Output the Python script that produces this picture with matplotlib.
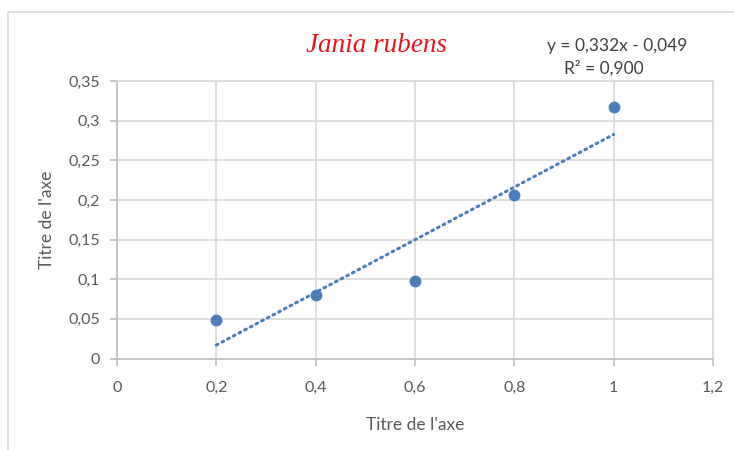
import numpy as np
import matplotlib
matplotlib.use("Agg")
import matplotlib.pyplot as plt
from matplotlib.patches import Rectangle
from matplotlib.ticker import FuncFormatter

# Data
x_vals = [0.2, 0.4, 0.6, 0.8, 1.0]
y_vals = [0.048, 0.080, 0.098, 0.206, 0.317]
x_ticks = [0, 0.2, 0.4, 0.6, 0.8, 1.0, 1.2]
y_ticks = [0, 0.05, 0.1, 0.15, 0.2, 0.25, 0.3, 0.35]
title_text = "Jania rubens"
eq_text = "y = 0,332x - 0,049"
r2_text = "R² = 0,900"
axis_title = "Titre de l'axe"

plt.rcParams['font.family'] = ['Lato', 'DejaVu Sans']

W, H = 734, 450
fig = plt.figure(figsize=(W / 100, H / 100), dpi=100)
fig.patch.set_facecolor('white')

# outer chart frame
fig.patches.append(Rectangle((8 / W, -0.05), 1.0, 1 - 12 / H + 0.05,
                             transform=fig.transFigure, fill=False,
                             edgecolor='#d9d9d9', linewidth=1.2))

ax = fig.add_axes([117 / W, 1 - 358.5 / H, (713 - 117) / W, (358.5 - 81) / H])

color = '#4a7ebb'
ax.plot(x_vals, y_vals, 'o', color=color, markersize=7.5, zorder=3, clip_on=False)

coef = np.polyfit(x_vals, y_vals, 1)
xt = np.array([min(x_vals), max(x_vals)])
ax.plot(xt, np.polyval(coef, xt), linestyle=(0, (0.6, 1.5)), color=color,
        linewidth=2.2, dash_capstyle='round', zorder=2)

ax.set_xlim(0, 1.2)
ax.set_ylim(0, 0.35)
ax.set_xticks(x_ticks)
ax.set_yticks(y_ticks)

def fmt(v, pos):
    s = ('%.2f' % v).rstrip('0').rstrip('.')
    return s.replace('.', ',')

ax.xaxis.set_major_formatter(FuncFormatter(fmt))
ax.yaxis.set_major_formatter(FuncFormatter(fmt))

ax.grid(True, color='#d9d9d9', linewidth=1.2)
ax.set_axisbelow(True)
for s in ['top', 'right']:
    ax.spines[s].set_color('#d9d9d9')
    ax.spines[s].set_linewidth(1.2)
for s in ['bottom', 'left']:
    ax.spines[s].set_color('#bfbfbf')
    ax.spines[s].set_linewidth(1.2)

ax.tick_params(axis='both', direction='out', length=5, width=1.2, color='#bfbfbf',
               labelcolor='#595959', labelsize=11.5)
ax.tick_params(axis='x', pad=11)
ax.tick_params(axis='y', pad=7)

ax.set_xlabel(axis_title, fontsize=12.5, color='#595959', labelpad=16)
ax.set_ylabel(axis_title, fontsize=12.5, color='#595959', labelpad=10)

fig.text(376 / W, 1 - 45 / H, title_text, fontsize=19.5, color='#e8141b',
         family='Liberation Serif', style='italic', ha='center', va='center')
fig.text(617 / W, 1 - 46 / H, eq_text, fontsize=12.5, color='#404040',
         ha='center', va='center')
fig.text(604 / W, 1 - 68 / H, r2_text, fontsize=12.5, color='#404040',
         ha='center', va='center')

fig.savefig('out.png', dpi=100, facecolor='white')
